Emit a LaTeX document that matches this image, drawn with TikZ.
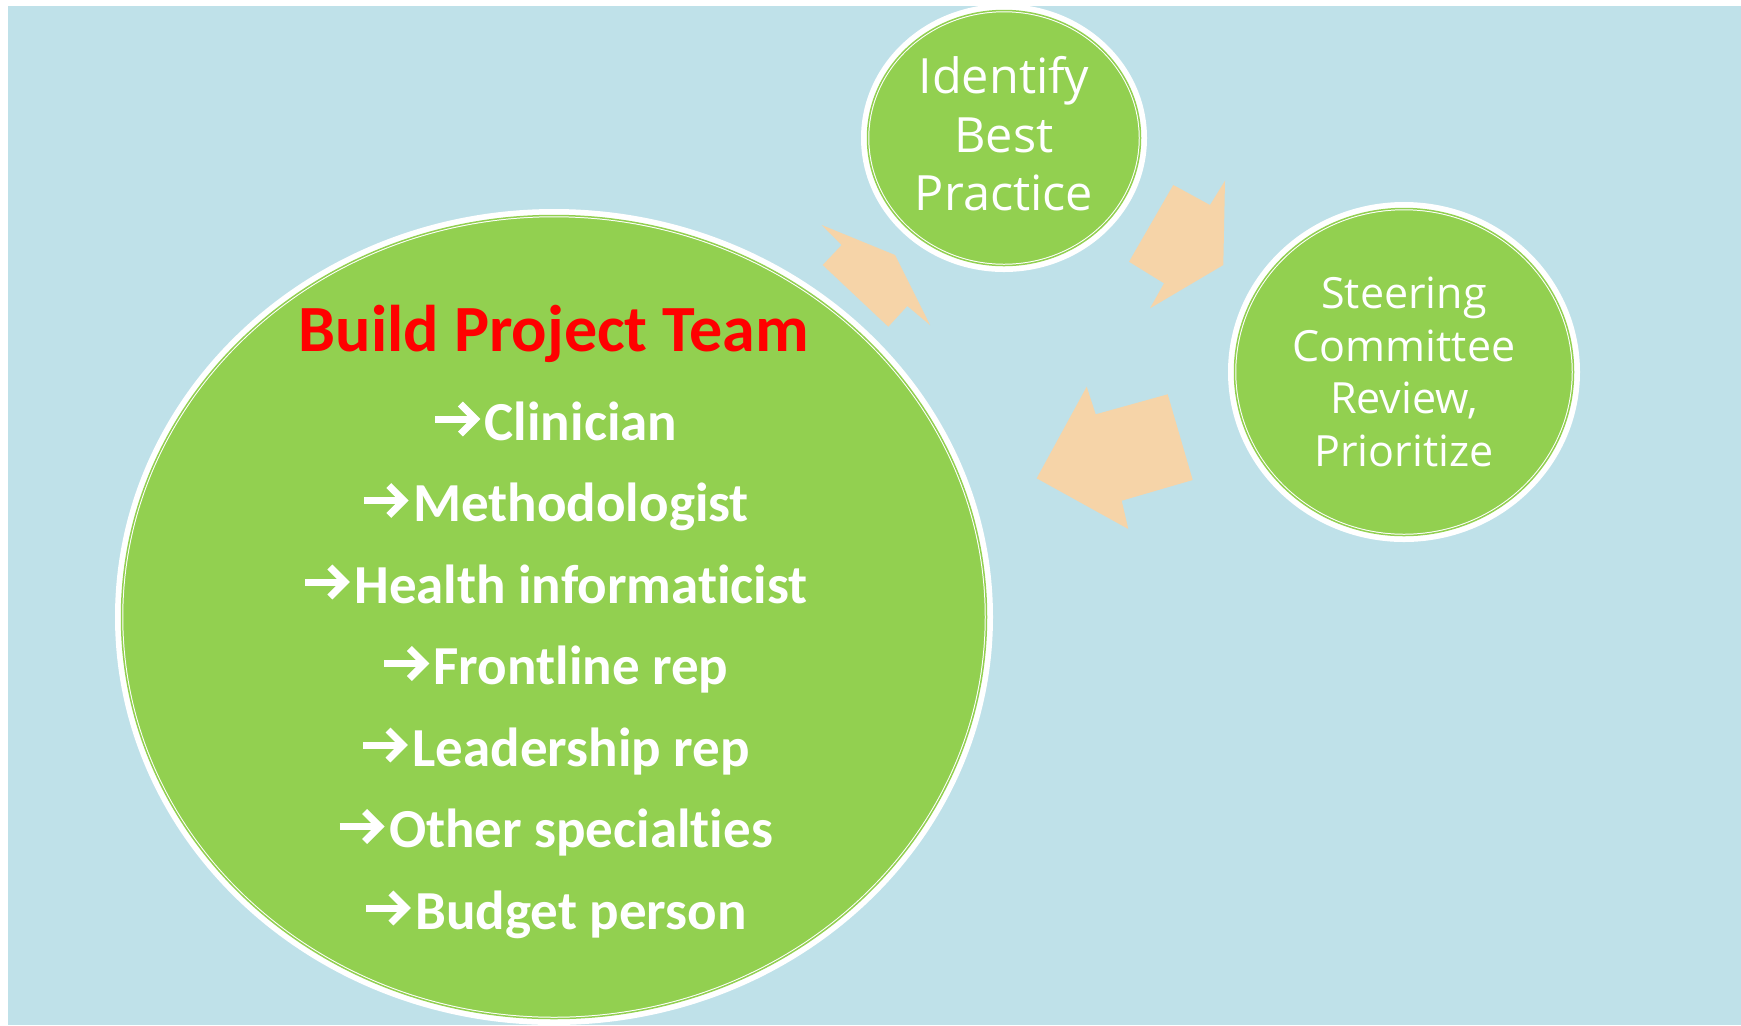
\documentclass[tikz,border=0pt]{standalone}
\usepackage{fontspec}
\setmainfont{Carlito}[Ligatures=NoCommon]
\newfontfamily\circlefont{Open Sans}
\usetikzlibrary{shapes.geometric}

\definecolor{skyback}{RGB}{191,225,233}
\definecolor{leafgreen}{RGB}{146,208,80}
\definecolor{peach}{RGB}{246,212,168}
\definecolor{titlered}{RGB}{255,0,0}

\tikzset{
  ring/.style={ellipse, inner sep=0pt, fill=leafgreen, draw=white, line width=0.5pt,
    double=leafgreen, double distance=0.75pt, preaction={draw=white, line width=6.5pt}},
  circletext/.style={text=white, align=center},
  teamtitle/.style={text=titlered, anchor=base, inner sep=0pt, font=\bfseries\fontsize{33}{39}\selectfont},
  role/.style={text=white, anchor=base, inner sep=0pt, font=\bfseries\fontsize{27.5}{33}\selectfont},
  rolearrow/.style={draw=white, line width=3.5pt, miter limit=4},
  cyclearrow/.style={fill=peach}
}

\begin{document}
\begin{tikzpicture}[x=0.5pt,y=-0.5pt]
    \useasboundingbox (0,0) rectangle (1741,1025);
    \fill[skyback] (8,6) rectangle (1741,1025);
    \node[ring, minimum width=432.5pt, minimum height=401.5pt] (team) at (554,617) {};
    \node[ring, circletext, minimum width=136.5pt, minimum height=127.5pt, text depth=4.5pt,
      font=\circlefont\fontsize{24.3}{29.2}\selectfont] (best) at (1004,138) {Identify\\Best\\Practice};
    \node[ring, circletext, minimum width=169.5pt, minimum height=163.5pt,
      font=\circlefont\fontsize{21.5}{26.4}\selectfont] (steer) at (1404,372) {Steering\\Committee\\Review,\\Prioritize};
    \node[teamtitle] (title) at (554,351) {Build Project Team};
    \foreach \who [count=\i from 0] in {Clinician, Methodologist, Health informaticist,
      Frontline rep, Leadership rep, Other specialties, Budget person}{
      \node[role] (role\i) at (581,440+81.5*\i) {\who};
      \coordinate (tip\i) at ([shift={(-9,-21)}]role\i.base west);
      \draw[rolearrow] (tip\i) ++(-40,0) -- ++(40,0);
      \draw[rolearrow] (tip\i) ++(-15,-15) -- ++(15,15) -- ++(-15,15);
    }
    % cycle arrows
    \fill[cyclearrow] (821.7,225) -- (895,255) -- (930,325) -- (907.3,306)
      -- (888.3,326.7) -- (822.7,265) -- (841.7,245) -- cycle;
    \fill[cyclearrow] (1173.3,185) -- (1210,205) -- (1225,180.7) -- (1223.3,265)
      -- (1150,308.3) -- (1164,283.3) -- (1129,261.7) -- cycle;
    \fill[cyclearrow] (1086.7,386.7) -- (1095.7,414.3) -- (1167.7,394.3) -- (1192.7,480)
      -- (1121.7,500.7) -- (1128.3,529) -- (1036.7,478.3) -- cycle;
\end{tikzpicture}
\end{document}
